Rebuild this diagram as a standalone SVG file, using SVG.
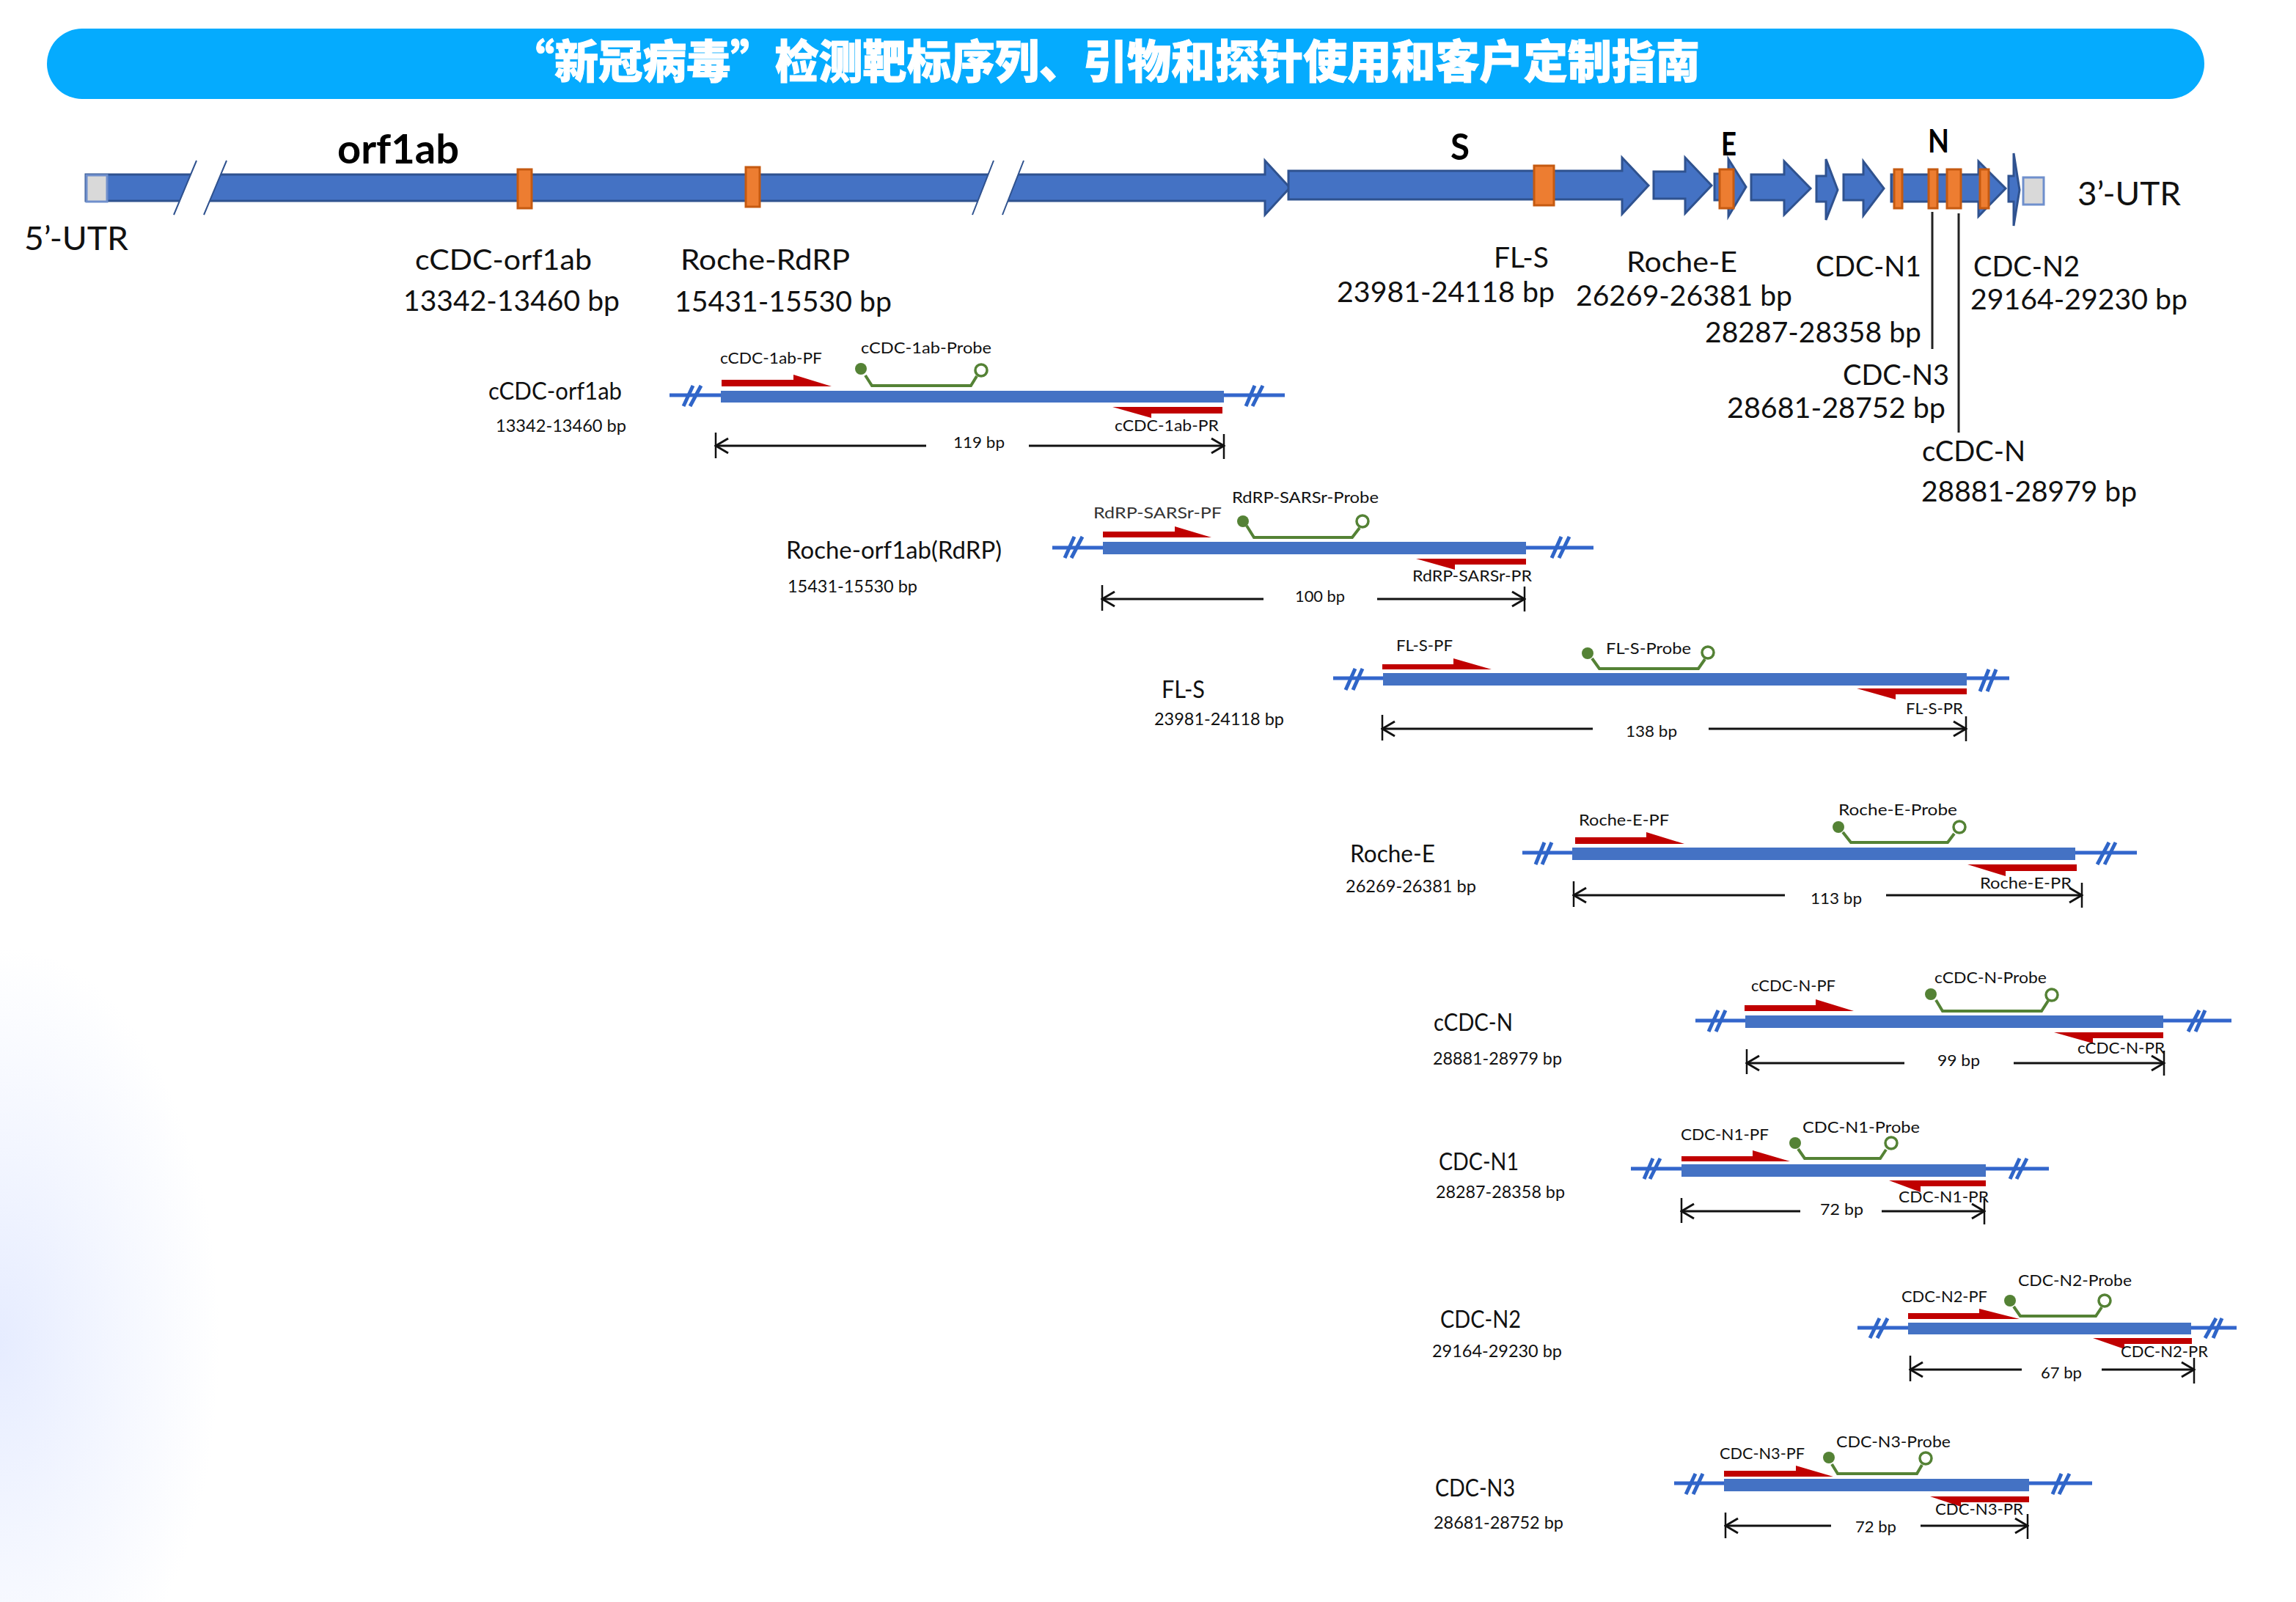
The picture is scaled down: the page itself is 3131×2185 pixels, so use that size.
<svg xmlns="http://www.w3.org/2000/svg" width="3131" height="2185" viewBox="0 0 3131 2185">
<style>
text{font-family:Lato,"Liberation Sans","Noto Sans CJK SC",sans-serif;fill:#111}
.title{font-family:"Noto Sans CJK SC","Noto Sans CJK TC",sans-serif;font-size:62px;font-weight:900;fill:#fff;stroke:#fff;stroke-width:1}
.gene{font-weight:700;fill:#000}
.m{font-size:39px}.u{font-size:44px}
.n{font-size:32px;transform:translateY(-1px)}.r{font-size:24px;transform:translateY(-1px)}.l{font-size:22px;transform:translateY(-2px)}
.trk{fill:#4472C4;stroke:#2F528F;stroke-width:3}
.org{fill:#ED7D31;stroke:#C55A11;stroke-width:3}
.utr{fill:#D9D9D9;stroke:#6F8FCC;stroke-width:3}
.gap{fill:#fff;stroke:none}
.gapl{stroke:#2F528F;stroke-width:2;fill:none}
.bar{fill:#4472C4}
.thin{stroke:#3366CC;stroke-width:5;fill:none}
.sl{stroke:#2F65C8;stroke-width:5;fill:none}
.pr{fill:#C00000}
.pb{stroke:#548235;stroke-width:4;fill:none}
.dot{fill:#548235}
.op{fill:#fff;stroke:#548235;stroke-width:3.5}
.lead{stroke:#222;stroke-width:3;fill:none}
.tick{stroke:#111;stroke-width:2.5;fill:none}
.dim{stroke:#111;stroke-width:3;fill:none;marker-end:url(#oa)}
.dimL{stroke:#111;stroke-width:3;fill:none;marker-start:url(#oa)}
</style>
<defs>
<radialGradient id="bg" gradientUnits="userSpaceOnUse" cx="0" cy="0" r="1" gradientTransform="translate(0 1830) scale(300 540)">
<stop offset="0" stop-color="#E6ECFF"/><stop offset=".5" stop-color="#F3F6FF"/><stop offset="1" stop-color="#FFFFFF"/>
</radialGradient>
<marker id="oa" markerUnits="userSpaceOnUse" viewBox="-20 -12 22 24" markerWidth="22" markerHeight="24" refX="0" refY="0" orient="auto-start-reverse">
<path d="M-17,-10 L0,0 L-17,10" fill="none" stroke="#111" stroke-width="3"/>
</marker>
</defs>
<rect width="3131" height="2185" fill="#fff"/>
<rect x="0" y="1280" width="320" height="905" fill="url(#bg)"/>

<g id="title">
<rect x="64" y="39" width="2942" height="96" rx="48" fill="#05ABFE"/>
<text class="title" x="696" y="107" textLength="1622" lengthAdjust="spacingAndGlyphs">“新冠病毒”检测靶标序列、引物和探针使用和客户定制指南</text>
</g>

<g id="genome">
<polygon class="trk" points="117,238 1725,238 1725,219 1759,256 1725,293 1725,274 117,274"/>
<rect class="utr" x="118" y="239" width="28" height="36"/>
<polygon class="gap" points="268,217 309,217 278,295 237,295"/>
<path class="gapl" d="M268,219 L237,293 M309,219 L278,293"/>
<polygon class="gap" points="1355,217 1396,217 1367,295 1326,295"/>
<path class="gapl" d="M1355,219 L1326,293 M1396,219 L1367,293"/>
<polygon class="trk" points="1757,233 2212,233 2212,215 2248,253 2212,292 2212,272 1757,272"/>
<polygon class="trk" points="2255,234 2298,234 2298,215 2334,253 2298,291 2298,271 2255,271"/>
<polygon class="trk" points="2338,237 2357,237 2357,217 2381,255 2357,295 2357,273 2338,273"/>
<polygon class="trk" points="2388,238 2433,238 2433,220 2469,257 2433,293 2433,273 2388,273"/>
<polygon class="trk" points="2477,240 2490,240 2490,217 2506,259 2490,300 2490,275 2477,275"/>
<polygon class="trk" points="2514,238 2541,238 2541,220 2569,257 2541,294 2541,273 2514,273"/>
<polygon class="trk" points="2579,238 2698,238 2698,220 2735,257 2698,295 2698,275 2579,275"/>
<polygon class="trk" points="2739,240 2746,240 2746,209 2754,259 2746,308 2746,275 2739,275"/>
<rect class="utr" x="2759" y="242" width="28" height="37"/>
<rect class="org" x="706" y="231" width="19" height="53"/>
<rect class="org" x="1017" y="228" width="19" height="54"/>
<rect class="org" x="2092" y="226" width="27" height="54"/>
<rect class="org" x="2345" y="231" width="19" height="53"/>
<rect class="org" x="2583" y="231" width="11" height="53"/>
<rect class="org" x="2630" y="231" width="12" height="53"/>
<rect class="org" x="2655" y="231" width="19" height="53"/>
<rect class="org" x="2700" y="231" width="12" height="53"/>
<text class="gene" font-size="56" x="460" y="223" textLength="166" lengthAdjust="spacingAndGlyphs">orf1ab</text>
<text class="gene" font-size="50" x="1978" y="218" textLength="26" lengthAdjust="spacingAndGlyphs">S</text>
<text class="gene" font-size="44" x="2347" y="212" textLength="21" lengthAdjust="spacingAndGlyphs">E</text>
<text class="gene" font-size="44" x="2629" y="208" textLength="29" lengthAdjust="spacingAndGlyphs">N</text>
<text class="u" x="33" y="341" textLength="142" lengthAdjust="spacingAndGlyphs">5’-UTR</text>
<text class="u" x="2833" y="280" textLength="141" lengthAdjust="spacingAndGlyphs">3’-UTR</text>
<text class="m" x="566" y="368" textLength="241" lengthAdjust="spacingAndGlyphs">cCDC-orf1ab</text>
<text class="m" x="550" y="424" textLength="295" lengthAdjust="spacingAndGlyphs">13342-13460 bp</text>
<text class="m" x="928" y="368" textLength="231" lengthAdjust="spacingAndGlyphs">Roche-RdRP</text>
<text class="m" x="920" y="425" textLength="296" lengthAdjust="spacingAndGlyphs">15431-15530 bp</text>
<text class="m" x="2037" y="365" textLength="75" lengthAdjust="spacingAndGlyphs">FL-S</text>
<text class="m" x="1823" y="412" textLength="297" lengthAdjust="spacingAndGlyphs">23981-24118 bp</text>
<text class="m" x="2218" y="371" textLength="151" lengthAdjust="spacingAndGlyphs">Roche-E</text>
<text class="m" x="2149" y="417" textLength="295" lengthAdjust="spacingAndGlyphs">26269-26381 bp</text>
<text class="m" x="2476" y="377" textLength="144" lengthAdjust="spacingAndGlyphs">CDC-N1</text>
<text class="m" x="2325" y="467" textLength="295" lengthAdjust="spacingAndGlyphs">28287-28358 bp</text>
<text class="m" x="2691" y="377" textLength="145" lengthAdjust="spacingAndGlyphs">CDC-N2</text>
<text class="m" x="2687" y="422" textLength="296" lengthAdjust="spacingAndGlyphs">29164-29230 bp</text>
<text class="m" x="2513" y="525" textLength="145" lengthAdjust="spacingAndGlyphs">CDC-N3</text>
<text class="m" x="2355" y="570" textLength="298" lengthAdjust="spacingAndGlyphs">28681-28752 bp</text>
<text class="m" x="2621" y="629" textLength="141" lengthAdjust="spacingAndGlyphs">cCDC-N</text>
<text class="m" x="2620" y="684" textLength="294" lengthAdjust="spacingAndGlyphs">28881-28979 bp</text>
</g>

<g id="cCDC-orf1ab">
<path class="thin" d="M913,539 H983 M1669,539 H1752"/>
<path class="sl" d="M945,526 L932,554 M956,526 L941,554 M1711,526 L1699,554 M1722,526 L1708,554"/>
<rect class="bar" x="983" y="533" width="686" height="16"/>
<polygon class="pr" points="984,518 1082,518 1082,511 1134,527 984,527"/>
<polygon class="pr" points="1667,555 1517,555 1570,570 1570,564 1667,564"/>
<path class="pb" d="M1180,512 L1189,526 H1324 L1332,513"/>
<circle class="dot" cx="1174" cy="503" r="8"/><circle class="op" cx="1338" cy="505" r="8"/>
<text class="n" x="666" y="546" textLength="182" lengthAdjust="spacingAndGlyphs">cCDC-orf1ab</text>
<text class="r" x="676" y="590" textLength="178" lengthAdjust="spacingAndGlyphs">13342-13460 bp</text>
<text class="l" x="982" y="498" textLength="139" lengthAdjust="spacingAndGlyphs">cCDC-1ab-PF</text>
<text class="l" x="1174" y="484" textLength="178" lengthAdjust="spacingAndGlyphs">cCDC-1ab-Probe</text>
<text class="l" x="1520" y="590" textLength="142" lengthAdjust="spacingAndGlyphs">cCDC-1ab-PR</text>
<text class="l" x="1300" y="613" textLength="70" lengthAdjust="spacingAndGlyphs">119 bp</text>
</g>

<g id="Roche-orf1ab">
<path class="thin" d="M1435,747 H1504 M2081,747 H2173"/>
<path class="sl" d="M1465,732 L1452,761 M1476,732 L1461,761 M2129,732 L2116,761 M2140,732 L2126,761"/>
<rect class="bar" x="1504" y="739" width="577" height="17"/>
<polygon class="pr" points="1504,725 1602,725 1602,718 1652,733 1504,733"/>
<polygon class="pr" points="2081,762 1931,762 1984,777 1984,770 2081,770"/>
<path class="pb" d="M1700,717 L1710,733 H1844 L1854,720"/>
<circle class="dot" cx="1695" cy="711" r="8"/><circle class="op" cx="1858" cy="711" r="8"/>
<text class="n" x="1072" y="763" textLength="294" lengthAdjust="spacingAndGlyphs">Roche-orf1ab(RdRP)</text>
<text class="r" x="1074" y="809" textLength="177" lengthAdjust="spacingAndGlyphs">15431-15530 bp</text>
<text class="l" x="1491" y="709" textLength="175" lengthAdjust="spacingAndGlyphs" style="fill:#333">RdRP-SARSr-PF</text>
<text class="l" x="1680" y="688" textLength="200" lengthAdjust="spacingAndGlyphs">RdRP-SARSr-Probe</text>
<text class="l" x="1926" y="795" textLength="163" lengthAdjust="spacingAndGlyphs">RdRP-SARSr-PR</text>
<text class="l" x="1766" y="823" textLength="68" lengthAdjust="spacingAndGlyphs">100 bp</text>
</g>

<g id="FL-S">
<path class="thin" d="M1818,925 H1886 M2682,925 H2740"/>
<path class="sl" d="M1848,912 L1835,941 M1858,912 L1845,941 M2712,913 L2700,943 M2722,913 L2710,943"/>
<rect class="bar" x="1886" y="918" width="796" height="17"/>
<polygon class="pr" points="1885,906 1982,906 1982,898 2034,913 1885,913"/>
<polygon class="pr" points="2682,939 2532,939 2585,954 2585,947 2682,947"/>
<path class="pb" d="M2171,898 L2181,912 H2316 L2325,899"/>
<circle class="dot" cx="2165" cy="891" r="8"/><circle class="op" cx="2329" cy="890" r="8"/>
<text class="n" x="1584" y="953" textLength="59" lengthAdjust="spacingAndGlyphs">FL-S</text>
<text class="r" x="1574" y="990" textLength="177" lengthAdjust="spacingAndGlyphs">23981-24118 bp</text>
<text class="l" x="1904" y="890" textLength="77" lengthAdjust="spacingAndGlyphs">FL-S-PF</text>
<text class="l" x="2190" y="894" textLength="116" lengthAdjust="spacingAndGlyphs">FL-S-Probe</text>
<text class="l" x="2599" y="976" textLength="78" lengthAdjust="spacingAndGlyphs">FL-S-PR</text>
<text class="l" x="2217" y="1007" textLength="70" lengthAdjust="spacingAndGlyphs">138 bp</text>
</g>

<g id="Roche-E">
<path class="thin" d="M2076,1163 H2144 M2830,1163 H2914"/>
<path class="sl" d="M2106,1149 L2094,1179 M2116,1149 L2103,1179 M2876,1149 L2860,1179 M2885,1149 L2870,1179"/>
<rect class="bar" x="2144" y="1156" width="686" height="17"/>
<polygon class="pr" points="2148,1142 2245,1142 2245,1135 2297,1151 2148,1151"/>
<polygon class="pr" points="2832,1179 2683,1179 2735,1195 2735,1188 2832,1188"/>
<path class="pb" d="M2513,1135 L2524,1149 H2656 L2665,1137"/>
<circle class="dot" cx="2507" cy="1128" r="8"/><circle class="op" cx="2672" cy="1128" r="8"/>
<text class="n" x="1841" y="1177" textLength="116" lengthAdjust="spacingAndGlyphs">Roche-E</text>
<text class="r" x="1835" y="1218" textLength="178" lengthAdjust="spacingAndGlyphs">26269-26381 bp</text>
<text class="l" x="2153" y="1128" textLength="123" lengthAdjust="spacingAndGlyphs">Roche-E-PF</text>
<text class="l" x="2507" y="1114" textLength="162" lengthAdjust="spacingAndGlyphs">Roche-E-Probe</text>
<text class="l" x="2700" y="1214" textLength="125" lengthAdjust="spacingAndGlyphs">Roche-E-PR</text>
<text class="l" x="2469" y="1235" textLength="70" lengthAdjust="spacingAndGlyphs">113 bp</text>
</g>

<g id="cCDC-N">
<path class="thin" d="M2312,1392 H2380 M2950,1392 H3043"/>
<path class="sl" d="M2343,1378 L2330,1407 M2353,1378 L2340,1407 M2999,1378 L2984,1407 M3007,1378 L2994,1407"/>
<rect class="bar" x="2380" y="1385" width="570" height="17"/>
<polygon class="pr" points="2379,1371 2476,1371 2476,1363 2528,1379 2379,1379"/>
<polygon class="pr" points="2950,1408 2801,1408 2854,1423 2854,1416 2950,1416"/>
<path class="pb" d="M2640,1364 L2649,1379 H2784 L2793,1365"/>
<circle class="dot" cx="2633" cy="1356" r="8"/><circle class="op" cx="2798" cy="1357" r="8"/>
<text class="n" x="1955" y="1407" textLength="108" lengthAdjust="spacingAndGlyphs">cCDC-N</text>
<text class="r" x="1954" y="1453" textLength="176" lengthAdjust="spacingAndGlyphs">28881-28979 bp</text>
<text class="l" x="2388" y="1354" textLength="115" lengthAdjust="spacingAndGlyphs">cCDC-N-PF</text>
<text class="l" x="2638" y="1343" textLength="153" lengthAdjust="spacingAndGlyphs">cCDC-N-Probe</text>
<text class="l" x="2833" y="1439" textLength="119" lengthAdjust="spacingAndGlyphs">cCDC-N-PR</text>
<text class="l" x="2642" y="1456" textLength="58" lengthAdjust="spacingAndGlyphs">99 bp</text>
</g>

<g id="CDC-N1">
<path class="thin" d="M2224,1594 H2293 M2708,1594 H2794"/>
<path class="sl" d="M2254,1580 L2242,1608 M2264,1580 L2250,1608 M2754,1580 L2741,1608 M2764,1580 L2750,1608"/>
<rect class="bar" x="2293" y="1588" width="415" height="17"/>
<polygon class="pr" points="2293,1577 2390,1577 2390,1569 2441,1584 2293,1584"/>
<polygon class="pr" points="2708,1610 2576,1610 2619,1626 2619,1618 2708,1618"/>
<path class="pb" d="M2452,1567 L2461,1580 H2564 L2572,1568"/>
<circle class="dot" cx="2448" cy="1559" r="8"/><circle class="op" cx="2579" cy="1559" r="8"/>
<text class="n" x="1962" y="1597" textLength="109" lengthAdjust="spacingAndGlyphs">CDC-N1</text>
<text class="r" x="1958" y="1635" textLength="176" lengthAdjust="spacingAndGlyphs">28287-28358 bp</text>
<text class="l" x="2292" y="1557" textLength="120" lengthAdjust="spacingAndGlyphs">CDC-N1-PF</text>
<text class="l" x="2458" y="1547" textLength="160" lengthAdjust="spacingAndGlyphs">CDC-N1-Probe</text>
<text class="l" x="2589" y="1642" textLength="123" lengthAdjust="spacingAndGlyphs">CDC-N1-PR</text>
<text class="l" x="2482" y="1659" textLength="59" lengthAdjust="spacingAndGlyphs">72 bp</text>
</g>

<g id="CDC-N2">
<path class="thin" d="M2533,1811 H2602 M2988,1811 H3050"/>
<path class="sl" d="M2563,1798 L2550,1825 M2574,1798 L2560,1825 M3022,1798 L3007,1825 M3030,1798 L3018,1825"/>
<rect class="bar" x="2602" y="1804" width="386" height="16"/>
<polygon class="pr" points="2602,1791 2699,1791 2699,1785 2754,1799 2602,1799"/>
<polygon class="pr" points="2989,1825 2854,1825 2897,1840 2897,1833 2989,1833"/>
<path class="pb" d="M2746,1782 L2755,1795 H2858 L2866,1783"/>
<circle class="dot" cx="2741" cy="1774" r="8"/><circle class="op" cx="2870" cy="1774" r="8"/>
<text class="n" x="1964" y="1812" textLength="110" lengthAdjust="spacingAndGlyphs">CDC-N2</text>
<text class="r" x="1953" y="1852" textLength="177" lengthAdjust="spacingAndGlyphs">29164-29230 bp</text>
<text class="l" x="2593" y="1778" textLength="117" lengthAdjust="spacingAndGlyphs">CDC-N2-PF</text>
<text class="l" x="2752" y="1756" textLength="155" lengthAdjust="spacingAndGlyphs">CDC-N2-Probe</text>
<text class="l" x="2892" y="1853" textLength="119" lengthAdjust="spacingAndGlyphs">CDC-N2-PR</text>
<text class="l" x="2783" y="1882" textLength="56" lengthAdjust="spacingAndGlyphs">67 bp</text>
</g>

<g id="CDC-N3">
<path class="thin" d="M2283,2023 H2351 M2767,2023 H2853"/>
<path class="sl" d="M2312,2010 L2299,2038 M2322,2010 L2309,2038 M2811,2010 L2799,2038 M2822,2010 L2808,2038"/>
<rect class="bar" x="2351" y="2017" width="416" height="17"/>
<polygon class="pr" points="2351,2006 2449,2006 2449,1999 2500,2014 2351,2014"/>
<polygon class="pr" points="2767,2041 2632,2041 2674,2055 2674,2049 2767,2049"/>
<path class="pb" d="M2498,1997 L2506,2010 H2614 L2621,1998"/>
<circle class="dot" cx="2494" cy="1988" r="8"/><circle class="op" cx="2626" cy="1989" r="8"/>
<text class="n" x="1957" y="2042" textLength="109" lengthAdjust="spacingAndGlyphs">CDC-N3</text>
<text class="r" x="1955" y="2086" textLength="177" lengthAdjust="spacingAndGlyphs">28681-28752 bp</text>
<text class="l" x="2345" y="1992" textLength="116" lengthAdjust="spacingAndGlyphs">CDC-N3-PF</text>
<text class="l" x="2504" y="1976" textLength="156" lengthAdjust="spacingAndGlyphs">CDC-N3-Probe</text>
<text class="l" x="2639" y="2068" textLength="120" lengthAdjust="spacingAndGlyphs">CDC-N3-PR</text>
<text class="l" x="2530" y="2092" textLength="56" lengthAdjust="spacingAndGlyphs">72 bp</text>
</g>

<g id="connectors">
<path class="lead" d="M2635,289 V476 M2671,291 V590"/>
<path class="tick" d="M976,590 V625 M1669,592 V626 M1503,798 V833 M2079,800 V834 M1885,975 V1010 M2681,977 V1011 M2146,1202 V1237 M2839,1204 V1238 M2382,1431 V1465 M2951,1433 V1467 M2293,1634 V1668 M2706,1635 V1670 M2605,1849 V1884 M2992,1852 V1887 M2353,2063 V2098 M2765,2065 V2099"/>
<line class="dimL" x1="976" y1="608" x2="1263" y2="608"/><line class="dim" x1="1403" y1="608" x2="1669" y2="608"/>
<line class="dimL" x1="1503" y1="817" x2="1723" y2="817"/><line class="dim" x1="1878" y1="817" x2="2079" y2="817"/>
<line class="dimL" x1="1885" y1="994" x2="2172" y2="994"/><line class="dim" x1="2330" y1="994" x2="2681" y2="994"/>
<line class="dimL" x1="2146" y1="1221" x2="2434" y2="1221"/><line class="dim" x1="2572" y1="1221" x2="2839" y2="1221"/>
<line class="dimL" x1="2382" y1="1450" x2="2597" y2="1450"/><line class="dim" x1="2746" y1="1450" x2="2951" y2="1450"/>
<line class="dimL" x1="2293" y1="1652" x2="2455" y2="1652"/><line class="dim" x1="2566" y1="1652" x2="2706" y2="1652"/>
<line class="dimL" x1="2605" y1="1868" x2="2757" y2="1868"/><line class="dim" x1="2866" y1="1868" x2="2992" y2="1868"/>
<line class="dimL" x1="2353" y1="2081" x2="2497" y2="2081"/><line class="dim" x1="2619" y1="2081" x2="2765" y2="2081"/>
</g>
</svg>
